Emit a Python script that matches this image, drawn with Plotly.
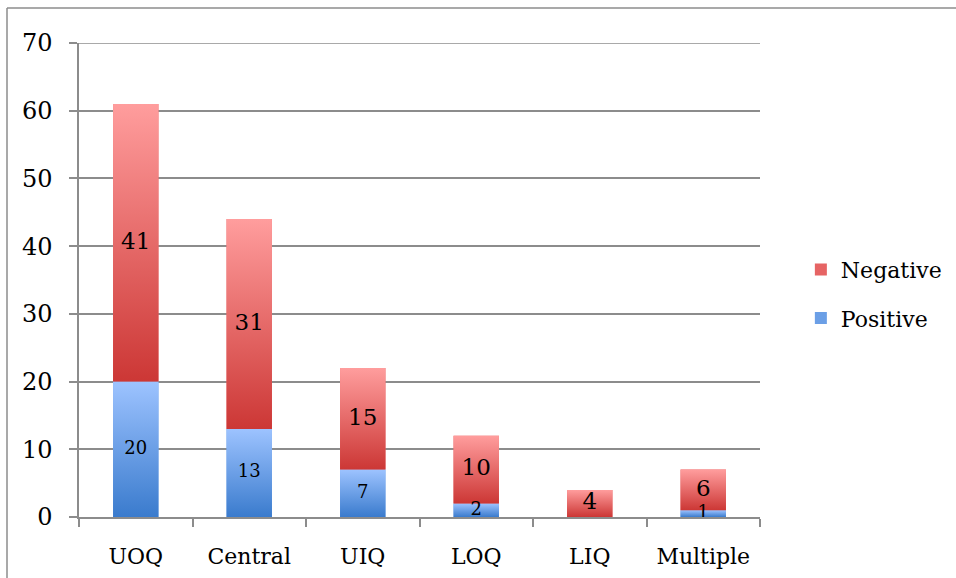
import plotly.graph_objects as go

# Lesion location counts by outcome
categories = ["UOQ", "Central", "UIQ", "LOQ", "LIQ", "Multiple"]
positive = [20, 13, 7, 2, 0, 1]
negative = [41, 31, 15, 10, 4, 6]

FONT = "DejaVu Serif"
BAR_W = 0.4
GRID = "#8c8c8c"
Y_MAX = 70

RED_DARK, RED_LIGHT = "#cc3735", "#ff9d9d"
BLUE_DARK, BLUE_LIGHT = "#3a7bcd", "#9dc3ff"

xs = list(range(len(categories)))
neg_base = positive

fig = go.Figure()

# solid stacked bars (also provide legend swatches)
fig.add_trace(go.Bar(x=xs, y=positive, width=BAR_W, name="Positive",
                     marker=dict(color="#6b9fe6", line=dict(width=0)),
                     legendgroup="pos", legendrank=2, hoverinfo="skip"))
fig.add_trace(go.Bar(x=xs, y=negative, base=neg_base, width=BAR_W, name="Negative",
                     marker=dict(color="#e66464", line=dict(width=0)),
                     legendgroup="neg", legendrank=1, hoverinfo="skip"))


def gradient_segment(xc, y0, y1, dark, light):
    h = BAR_W / 2
    return go.Scatter(
        x=[xc - h, xc + h, xc + h, xc - h, xc - h],
        y=[y0, y0, y1, y1, y0],
        mode="lines", line=dict(width=0), fill="toself",
        fillgradient=dict(type="vertical", start=y0, stop=y1,
                          colorscale=[[0, dark], [1, light]]),
        showlegend=False, hoverinfo="skip")


# vertical gradient overlays on each bar segment
for i, (p, n) in enumerate(zip(positive, negative)):
    if p > 0:
        fig.add_trace(gradient_segment(xs[i], 0, p, BLUE_DARK, BLUE_LIGHT))
    if n > 0:
        fig.add_trace(gradient_segment(xs[i], p, p + n, RED_DARK, RED_LIGHT))

# value labels centred in each segment
pos_x = [x for x, p in zip(xs, positive) if p > 0]
pos_y = [p / 2 for p in positive if p > 0]
pos_t = [str(p) for p in positive if p > 0]
fig.add_trace(go.Scatter(x=pos_x, y=pos_y, text=pos_t, mode="text",
                         textfont=dict(family=FONT, size=18, color="black"),
                         showlegend=False, hoverinfo="skip"))
neg_x = [x for x, n in zip(xs, negative) if n > 0]
neg_y = [p + n / 2 for p, n in zip(positive, negative) if n > 0]
neg_t = [str(n) for n in negative if n > 0]
fig.add_trace(go.Scatter(x=neg_x, y=neg_y, text=neg_t, mode="text",
                         textfont=dict(family=FONT, size=23, color="black"),
                         showlegend=False, hoverinfo="skip"))

fig.update_layout(
    width=956, height=578,
    margin=dict(l=79, r=196, t=43, b=61, autoexpand=False),
    paper_bgcolor="white", plot_bgcolor="white",
    barmode="overlay",
    font=dict(family=FONT, size=22, color="black"),
    legend=dict(x=1.06, y=0.47, xanchor="left", yanchor="middle",
                traceorder="grouped", tracegroupgap=17,
                font=dict(family=FONT, size=22, color="black"),
                bgcolor="rgba(0,0,0,0)"),
    xaxis=dict(range=[-0.5, 5.5], tickmode="array", tickvals=xs, ticktext=categories,
               ticks="", ticklabelstandoff=19, showgrid=False, zeroline=False,
               automargin=False,
               showline=True, linecolor=GRID, linewidth=1.5,
               minor=dict(tickmode="array", tickvals=[i - 0.5 for i in range(len(categories) + 1)],
                          ticks="outside", ticklen=8, tickcolor=GRID, tickwidth=1.5),
               tickfont=dict(family=FONT, size=22)),
    yaxis=dict(range=[0, Y_MAX], tickmode="array", tickvals=list(range(0, Y_MAX + 1, 10)),
               ticks="outside", ticklen=8, tickcolor=GRID, tickwidth=1.5,
               ticklabelstandoff=12, automargin=False,
               showgrid=True, gridcolor=GRID, gridwidth=1.5, zeroline=False,
               showline=True, linecolor=GRID, linewidth=1.5,
               tickfont=dict(family=FONT, size=24)),
    shapes=[
        # top gridline at the axis maximum
        dict(type="line", xref="paper", yref="y", x0=0, x1=1, y0=Y_MAX, y1=Y_MAX,
             line=dict(color=GRID, width=1.5), layer="below"),
        # outer chart frame (left and top edges)
        dict(type="line", xref="paper", yref="paper", x0=-72 / 681, x1=196 / 681 + 1.01,
             y0=1 + 35 / 474, y1=1 + 35 / 474, line=dict(color=GRID, width=1.5)),
        dict(type="line", xref="paper", yref="paper", x0=-72 / 681, x1=-72 / 681,
             y0=1 + 35 / 474, y1=-70 / 474, line=dict(color=GRID, width=1.5)),
    ],
)

fig.write_html("out.html")
